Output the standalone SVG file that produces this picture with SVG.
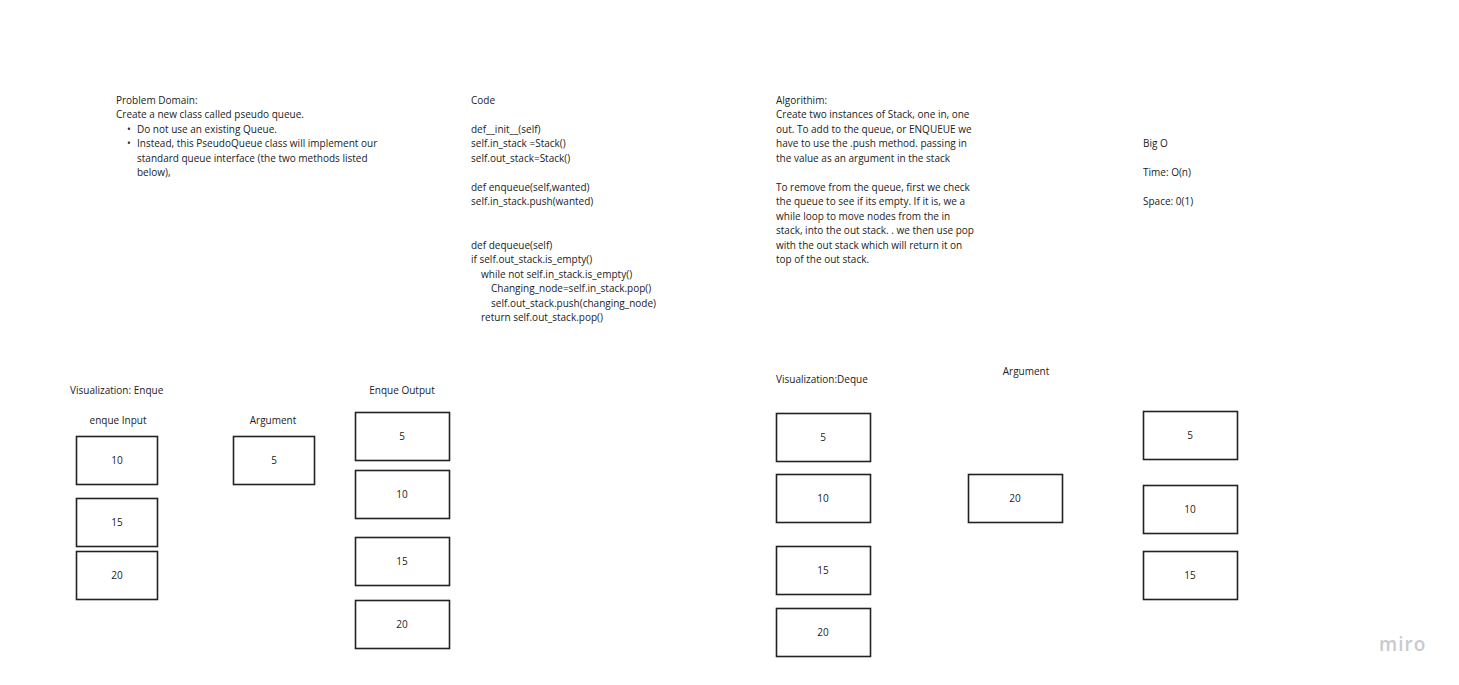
<svg xmlns="http://www.w3.org/2000/svg" width="1459" height="685" viewBox="0 0 1459 685">
<style>
text{font-family:"Open Sans","Noto Sans","Liberation Sans",sans-serif;font-size:10px;fill:#222}
.c{text-anchor:middle}
.box rect{fill:#fff;stroke:#222;stroke-width:1.6}
.logo{font-family:"Open Sans","Liberation Sans",sans-serif;font-size:19px;fill:#c9c9d1;letter-spacing:1px;font-weight:600}
</style>
<rect x="0" y="0" width="1459" height="685" fill="#fff"/>

<g id="problem-domain">
<text x="116" y="103.5">Problem Domain:</text>
<text x="116" y="118">Create a new class called pseudo queue.</text>
<text x="127" y="132.5">•</text><text x="137" y="132.5">Do not use an existing Queue.</text>
<text x="127" y="147">•</text><text x="137" y="147">Instead, this PseudoQueue class will implement our</text>
<text x="137" y="161.5">standard queue interface (the two methods listed</text>
<text x="137" y="176">below),</text>
</g>

<g id="code">
<text x="471" y="103.5">Code</text>
<text x="471" y="132.5">def__init__(self)</text>
<text x="471" y="147">self.in_stack =Stack()</text>
<text x="471" y="161.5">self.out_stack=Stack()</text>
<text x="471" y="190.5">def enqueue(self,wanted)</text>
<text x="471" y="205">self.in_stack.push(wanted)</text>
<text x="471" y="248.5">def dequeue(self)</text>
<text x="471" y="263">if self.out_stack.is_empty()</text>
<text x="481" y="277.5">while not self.in_stack.is_empty()</text>
<text x="491" y="292">Changing_node=self.in_stack.pop()</text>
<text x="491" y="306.5">self.out_stack.push(changing_node)</text>
<text x="481" y="321">return self.out_stack.pop()</text>
</g>

<g id="algorithm">
<text x="776" y="103.5">Algorithim:</text>
<text x="776" y="118">Create two instances of Stack, one in, one</text>
<text x="776" y="132.5">out. To add to the queue, or ENQUEUE we</text>
<text x="776" y="147">have to use the .push method. passing in</text>
<text x="776" y="161.5">the value as an argument in the stack</text>
<text x="776" y="190.5">To remove from the queue, first we check</text>
<text x="776" y="205">the queue to see if its empty. If it is, we a</text>
<text x="776" y="219.5">while loop to move nodes from the in</text>
<text x="776" y="234">stack, into the out stack. . we then use pop</text>
<text x="776" y="248.5">with the out stack which will return it on</text>
<text x="776" y="263">top of the out stack.</text>
</g>

<g id="big-o">
<text x="1143" y="146.5">Big O</text>
<text x="1143" y="175.5">Time: O(n)</text>
<text x="1143" y="204.5">Space: 0(1)</text>
</g>

<g id="labels">
<text x="70" y="393.5">Visualization: Enque</text>
<text class="c" x="118" y="423.5">enque Input</text>
<text class="c" x="273" y="423.5">Argument</text>
<text class="c" x="402" y="393.5">Enque Output</text>
<text x="776" y="382.5">Visualization:Deque</text>
<text class="c" x="1026" y="374.5">Argument</text>
</g>

<g id="enque-in-10" class="box"><rect x="76.5" y="436.5" width="81" height="48"/><text class="c" x="117" y="463.5">10</text></g>
<g id="enque-in-15" class="box"><rect x="76.5" y="498.5" width="81" height="48"/><text class="c" x="117" y="525.5">15</text></g>
<g id="enque-in-20" class="box"><rect x="76.5" y="551.5" width="81" height="48"/><text class="c" x="117" y="578.5">20</text></g>

<g id="enque-arg-5" class="box"><rect x="233.5" y="436.5" width="81" height="48"/><text class="c" x="274" y="463.5">5</text></g>

<g id="enque-out-5" class="box"><rect x="355.5" y="412.5" width="94" height="48"/><text class="c" x="402" y="439.5">5</text></g>
<g id="enque-out-10" class="box"><rect x="355.5" y="470.5" width="94" height="48"/><text class="c" x="402" y="497.5">10</text></g>
<g id="enque-out-15" class="box"><rect x="355.5" y="537.5" width="94" height="48"/><text class="c" x="402" y="564.5">15</text></g>
<g id="enque-out-20" class="box"><rect x="355.5" y="600.5" width="94" height="48"/><text class="c" x="402" y="627.5">20</text></g>

<g id="deque-5" class="box"><rect x="776.5" y="413.5" width="94" height="48"/><text class="c" x="823" y="440.5">5</text></g>
<g id="deque-10" class="box"><rect x="776.5" y="474.5" width="94" height="48"/><text class="c" x="823" y="501.5">10</text></g>
<g id="deque-15" class="box"><rect x="776.5" y="546.5" width="94" height="48"/><text class="c" x="823" y="573.5">15</text></g>
<g id="deque-20" class="box"><rect x="776.5" y="608.5" width="94" height="48"/><text class="c" x="823" y="635.5">20</text></g>

<g id="deque-arg-20" class="box"><rect x="968.5" y="474.5" width="94" height="48"/><text class="c" x="1015" y="501.5">20</text></g>

<g id="deque-out-5" class="box"><rect x="1143.5" y="411.5" width="94" height="48"/><text class="c" x="1190" y="438.5">5</text></g>
<g id="deque-out-10" class="box"><rect x="1143.5" y="485.5" width="94" height="48"/><text class="c" x="1190" y="512.5">10</text></g>
<g id="deque-out-15" class="box"><rect x="1143.5" y="551.5" width="94" height="48"/><text class="c" x="1190" y="578.5">15</text></g>

<g id="connectors"></g>

<text class="logo" x="1379" y="651">miro</text>
</svg>
